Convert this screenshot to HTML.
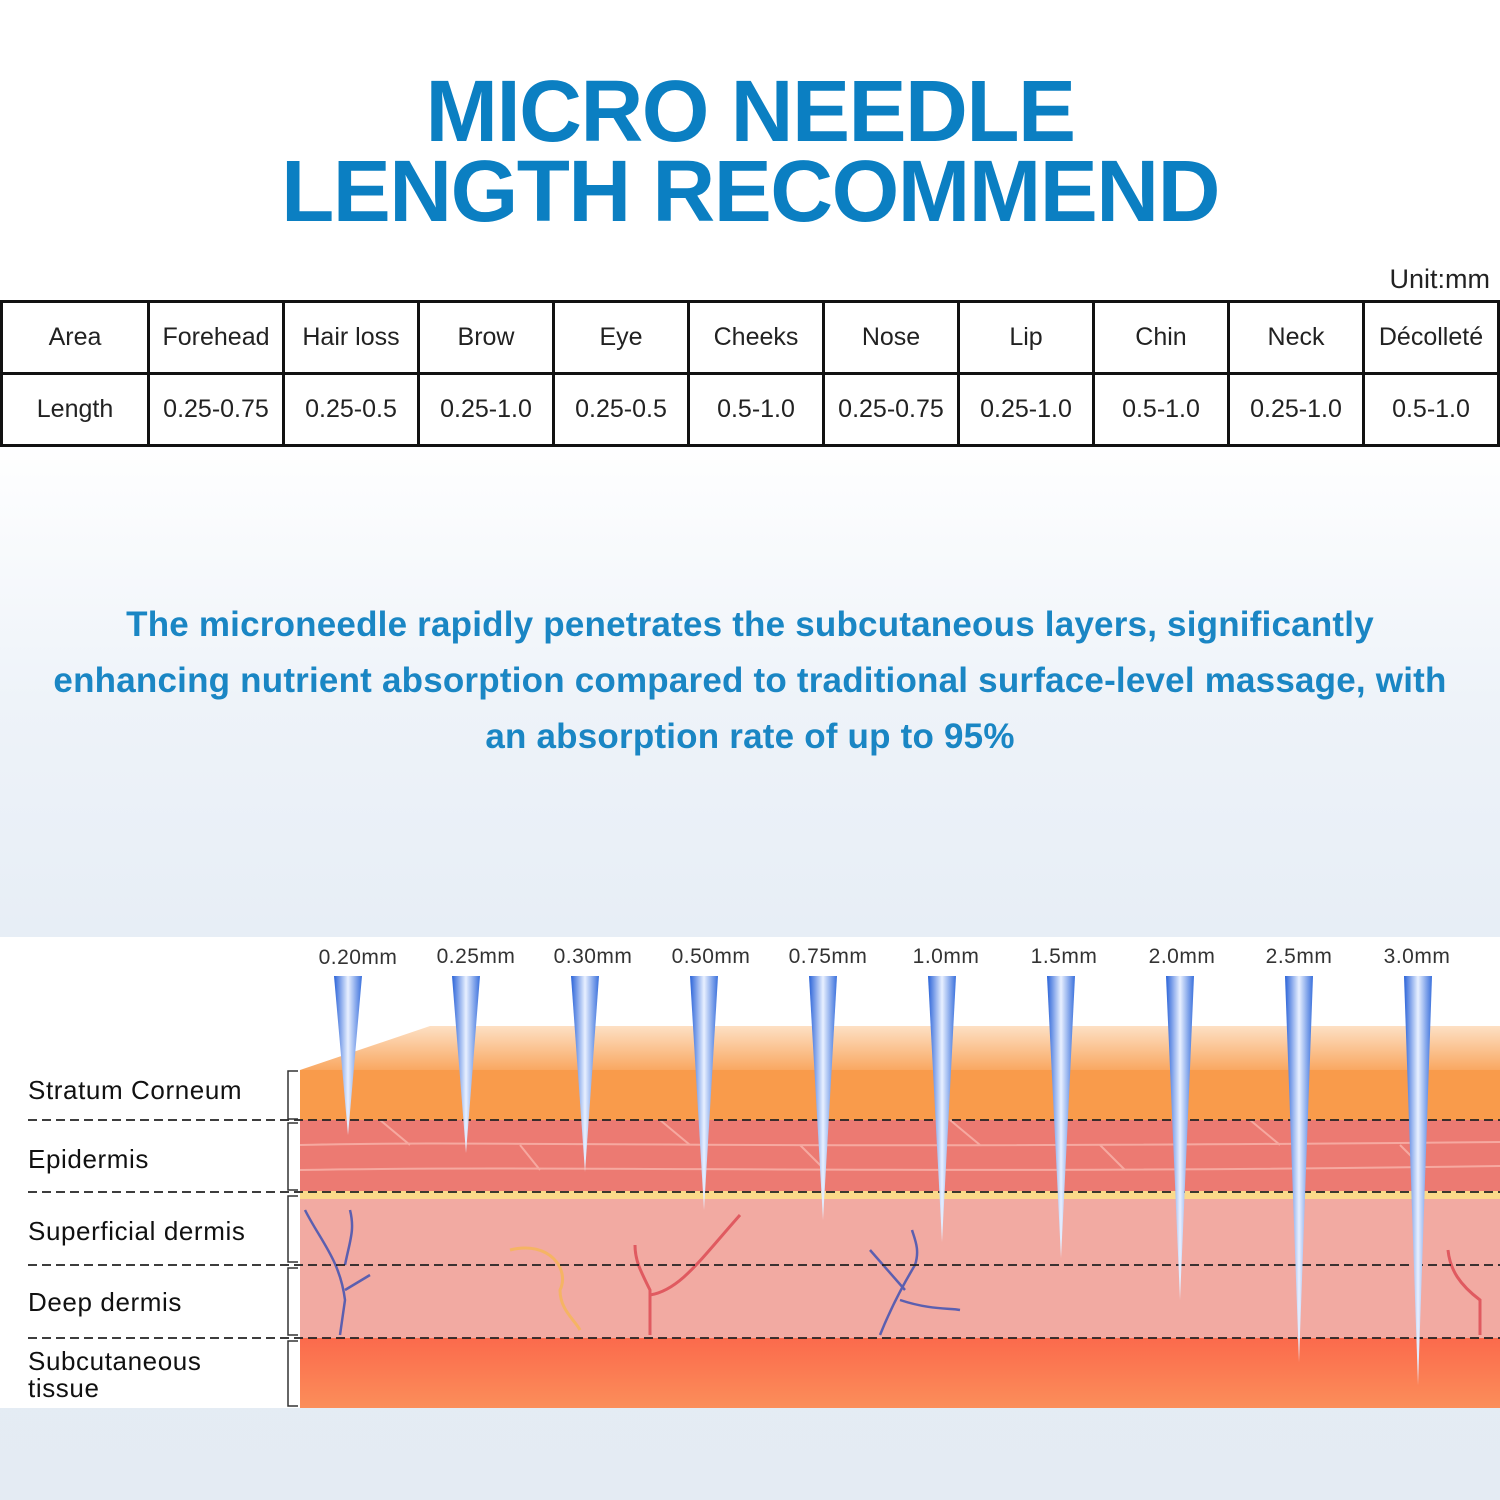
<!DOCTYPE html>
<html><head><meta charset="utf-8"><style>
body{margin:0;width:1500px;height:1500px;overflow:hidden;font-family:"Liberation Sans",sans-serif;background:linear-gradient(#ffffff 0px,#ffffff 440px,#eef3f9 700px,#e7eef6 930px,#e4ebf3 1500px);position:relative}
.t{position:absolute;left:0;width:1500px;text-align:center;color:#0b7fc2;font-weight:bold;font-size:87px;letter-spacing:-1.5px;line-height:1}
table{position:absolute;left:0;top:300px;width:1500px;border-collapse:collapse;table-layout:fixed}
td{border:3px solid #111;height:69px;text-align:center;font-size:25px;color:#222;padding:0}
.p{position:absolute;left:0;width:1500px;text-align:center;color:#1a86c4;font-weight:bold;font-size:35px;letter-spacing:0.2px;line-height:56px}
</style></head><body>
<div class="t" style="top:68px">MICRO NEEDLE</div>
<div class="t" style="top:148px">LENGTH RECOMMEND</div>
<div style="position:absolute;right:10px;top:264px;font-size:27px;color:#222">Unit:mm</div>
<table><colgroup><col style="width:147px"><col span="10"></colgroup>
<tr><td>Area</td><td>Forehead</td><td>Hair loss</td><td>Brow</td><td>Eye</td><td>Cheeks</td><td>Nose</td><td>Lip</td><td>Chin</td><td>Neck</td><td>Décolleté</td></tr>
<tr><td>Length</td><td>0.25-0.75</td><td>0.25-0.5</td><td>0.25-1.0</td><td>0.25-0.5</td><td>0.5-1.0</td><td>0.25-0.75</td><td>0.25-1.0</td><td>0.5-1.0</td><td>0.25-1.0</td><td>0.5-1.0</td></tr>
</table>
<div class="p" style="top:597px">The microneedle rapidly penetrates the subcutaneous layers, significantly<br>enhancing nutrient absorption compared to traditional surface-level massage, with<br>an absorption rate of up to 95%</div>
<svg style="position:absolute;left:0;top:0" width="1500" height="1500">
<defs>
<linearGradient id="top" x1="0" y1="0" x2="0" y2="1"><stop offset="0" stop-color="#fde0c4"/><stop offset="1" stop-color="#f9a862"/></linearGradient>
<linearGradient id="nd" x1="0" y1="0" x2="1" y2="0"><stop offset="0" stop-color="#2a63d8"/><stop offset="0.5" stop-color="#e8f0ff"/><stop offset="1" stop-color="#3a70dc"/></linearGradient>
<linearGradient id="sub" x1="0" y1="0" x2="0" y2="1"><stop offset="0" stop-color="#fb6a4c"/><stop offset="1" stop-color="#fb8e5a"/></linearGradient>
</defs>
<rect x="0" y="937" width="1500" height="471" fill="#fff"/>
<polygon points="300,1070 430,1026 1500,1026 1500,1070" fill="url(#top)"/>
<rect x="300" y="1070" width="1200" height="50" fill="#f99b4b"/>
<rect x="300" y="1120" width="1200" height="73" fill="#ec7a72"/>
<g stroke="#f6a9a0" stroke-width="2" fill="none">
<path d="M300 1145 C500 1140 700 1150 1500 1142"/><path d="M300 1170 C600 1165 900 1175 1500 1166"/>
<path d="M380 1120 l30 25 M520 1145 l20 25 M660 1120 l30 25 M800 1145 l25 25 M950 1120 l30 25 M1100 1145 l25 25 M1250 1120 l30 25 M1400 1145 l25 25"/></g>
<rect x="300" y="1191" width="1200" height="8" fill="#fbd98a"/>
<rect x="300" y="1199" width="1200" height="139" fill="#f2aaa2"/>
<rect x="300" y="1338" width="1200" height="70" fill="url(#sub)"/>
<g stroke="#5b5fb0" stroke-width="2.5" fill="none"><path d="M305 1210 C320 1240 340 1260 345 1300 L340 1335 M345 1265 C350 1240 355 1230 350 1210 M345 1290 L370 1275"/>
<path d="M880 1335 C890 1310 900 1290 915 1265 C920 1250 915 1240 912 1230 M900 1300 C930 1310 950 1308 960 1310 M905 1290 L870 1250"/></g>
<g stroke="#e05a60" stroke-width="3" fill="none"><path d="M650 1335 L650 1290 C640 1270 635 1260 635 1245 M650 1295 C680 1290 700 1260 740 1215"/><path d="M1480 1335 L1480 1300 C1460 1285 1450 1270 1448 1250"/></g>
<g stroke="#f6b84a" stroke-width="3" fill="none" opacity="0.7"><path d="M510 1250 C550 1240 570 1270 560 1290 C560 1310 575 1320 580 1330"/></g>
<g stroke="#222" stroke-width="1.8" stroke-dasharray="9,5"><line x1="28" y1="1120" x2="1500" y2="1120"/><line x1="28" y1="1192" x2="1500" y2="1192"/><line x1="28" y1="1265" x2="1500" y2="1265"/><line x1="28" y1="1338" x2="1500" y2="1338"/></g>
<g stroke="#333" stroke-width="1.5" fill="none"><path d="M298 1071 h-10 v48 h10"/><path d="M298 1123 h-10 v67 h10"/><path d="M298 1196 h-10 v66 h10"/><path d="M298 1268 h-10 v67 h10"/><path d="M298 1341 h-10 v65 h10"/></g>
<g fill="url(#nd)">
<polygon points="334,976 362,976 348,1135"/><polygon points="452,976 480,976 466,1153"/><polygon points="571,976 599,976 585,1172"/><polygon points="690,976 718,976 704,1210"/><polygon points="809,976 837,976 823,1220"/><polygon points="928,976 956,976 942,1242"/><polygon points="1047,976 1075,976 1061,1258"/><polygon points="1166,976 1194,976 1180,1300"/><polygon points="1285,976 1313,976 1299,1362"/><polygon points="1404,976 1432,976 1418,1385"/>
</g>
<g font-family="Liberation Sans,sans-serif" font-size="21" fill="#333" text-anchor="middle" letter-spacing="0.5">
<text x="358" y="964">0.20mm</text><text x="476" y="963">0.25mm</text><text x="593" y="963">0.30mm</text><text x="711" y="963">0.50mm</text><text x="828" y="963">0.75mm</text><text x="946" y="963">1.0mm</text><text x="1064" y="963">1.5mm</text><text x="1182" y="963">2.0mm</text><text x="1299" y="963">2.5mm</text><text x="1417" y="963">3.0mm</text></g>
<g font-family="Liberation Sans,sans-serif" font-size="26" fill="#111" letter-spacing="0.6">
<text x="28" y="1099">Stratum Corneum</text><text x="28" y="1168">Epidermis</text><text x="28" y="1240">Superficial dermis</text><text x="28" y="1311">Deep dermis</text><text x="28" y="1370">Subcutaneous</text><text x="28" y="1397">tissue</text></g>
</svg>
</body></html>
